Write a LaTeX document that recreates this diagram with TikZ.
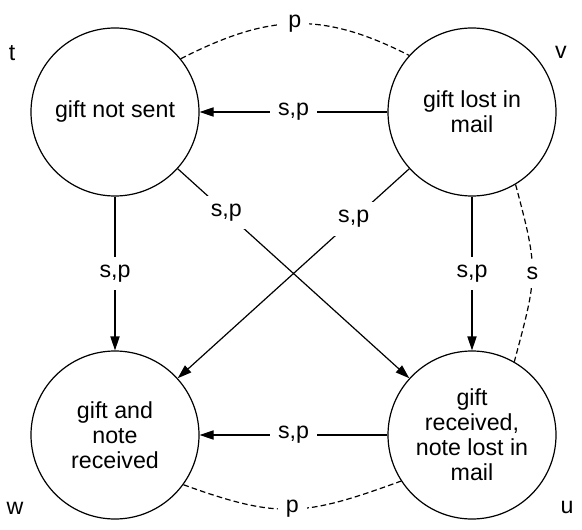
\documentclass[tikz,border=0pt]{standalone}
\usepackage{fontspec}
\setmainfont{Liberation Sans}
\usetikzlibrary{positioning,arrows.meta,calc}
\tikzset{
  giftstate/.style={circle,draw,line width=0.6pt,minimum size=84pt,inner sep=0pt,align=center},
  cornerlabel/.style={inner sep=0pt},
  edgelabel/.style={fill=white,inner sep=4pt},
  lossedge/.style={draw,line width=0.6pt,dash pattern=on 2.8pt off 1.6pt,-},
  every edge/.style={draw,line width=0.6pt,-{Triangle[length=7pt,width=4.6pt]}},
}

\begin{document}
\begin{tikzpicture}[font=\fontsize{11.6}{12.5}\selectfont,node distance=178.5pt]
\useasboundingbox (-57.5pt,56pt) rectangle (233.5pt,-208.5pt);

\node[giftstate] (t) {gift not sent};
\node[giftstate,right of=t] (v) {gift lost in\\mail};
\node[giftstate,node distance=161.5pt,below of=t] (w) {gift and\\note\\received};
\node[giftstate,node distance=161.5pt,below of=v] (u) {gift\\received,\\note lost in\\mail};

% state names
\node[cornerlabel] (tname) at ($(t)+(-51.5pt,29.5pt)$) {t};
\node[cornerlabel] (vname) at ($(v)+(44.5pt,30pt)$) {v};
\node[cornerlabel] (wname) at ($(w)+(-50pt,-36.5pt)$) {w};
\node[cornerlabel] (uname) at ($(u)+(47.5pt,-36pt)$) {u};

\path
(v) edge node[edgelabel] {s,p} (t)
(t) edge node[edgelabel] {s,p} (w)
(v) edge node[edgelabel] {s,p} (u)
(u) edge node[edgelabel] {s,p} (w)
(t) edge node[edgelabel,pos=0.21] {s,p} (u)
(v) edge node[edgelabel,pos=0.24] {s,p} (w);

% undirected links
\draw[lossedge] (t.39) to[out=27,in=153,looseness=1.1] node[edgelabel] {p} (v.138);
\draw[lossedge] (v.-59) to[out=-75,in=75,looseness=1.3] node[edgelabel] {s} (u.60);
\draw[lossedge] (w.-36) to[out=-20,in=-160,looseness=1.2] node[edgelabel] {p} (u.-147);

\end{tikzpicture}
\end{document}
